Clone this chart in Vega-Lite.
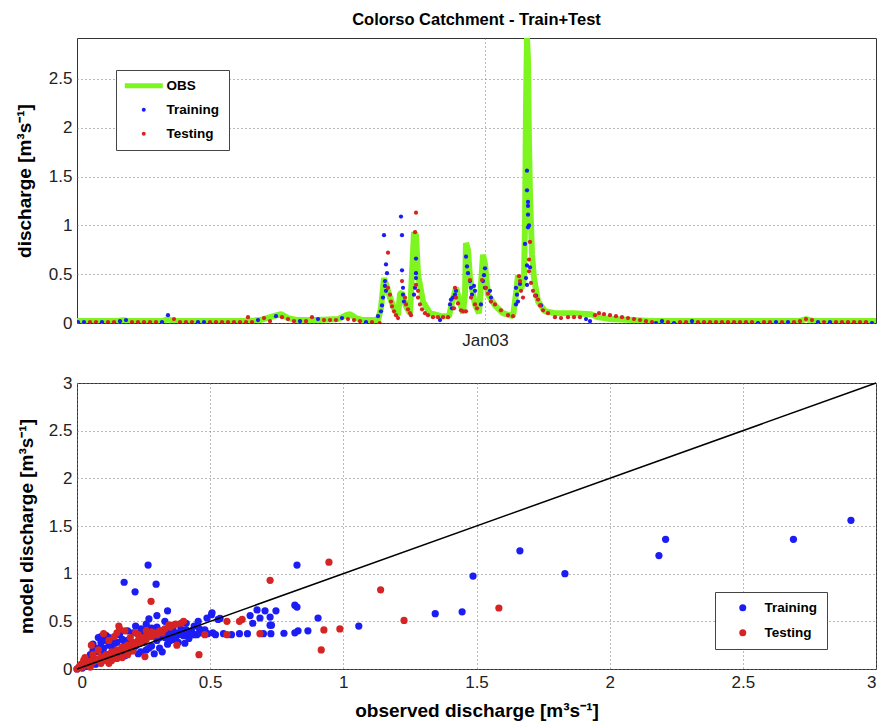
{
  "$schema": "https://vega.github.io/schema/vega-lite/v6.json",
  "background": "white",
  "padding": {"left": 14, "top": 11, "right": 5, "bottom": 5},
  "spacing": 60,
  "bounds": "flush",
  "config": {
    "font": "Liberation Sans",
    "view": {"stroke": "#333", "strokeWidth": 1},
    "axis": {
      "labelFont": "Liberation Sans", "labelFontSize": 17, "labelColor": "#222",
      "titleFont": "Liberation Sans", "titleFontSize": 19, "titleFontWeight": "bold", "titleColor": "black",
      "gridColor": "#777", "gridDash": [1, 3], "gridWidth": 1,
      "domain": false, "ticks": false, "labelPadding": 5
    },
    "legend": {"labelFont": "Liberation Sans"}
  },
  "resolve": {"scale": {"color": "independent"}, "legend": {"color": "independent"}},
  "datasets": {
    "obs": [
      {"day": 0, "discharge": 0.02}, {"day": 3.15, "discharge": 0.02}, {"day": 6.15, "discharge": 0.02}, {"day": 6.9, "discharge": 0.03},
      {"day": 7.65, "discharge": 0.02}, {"day": 12.9, "discharge": 0.02}, {"day": 13.65, "discharge": 0.04}, {"day": 14.4, "discharge": 0.02},
      {"day": 25.65, "discharge": 0.02}, {"day": 27.45, "discharge": 0.03}, {"day": 30.0, "discharge": 0.08}, {"day": 30.6, "discharge": 0.09},
      {"day": 31.65, "discharge": 0.05}, {"day": 33.15, "discharge": 0.03}, {"day": 36.15, "discharge": 0.03}, {"day": 39.15, "discharge": 0.04},
      {"day": 40.35, "discharge": 0.08}, {"day": 40.95, "discharge": 0.09}, {"day": 41.85, "discharge": 0.05}, {"day": 42.9, "discharge": 0.03},
      {"day": 45.15, "discharge": 0.03}, {"day": 45.6, "discharge": 0.15}, {"day": 46.05, "discharge": 0.46}, {"day": 46.35, "discharge": 0.40},
      {"day": 46.95, "discharge": 0.26}, {"day": 47.55, "discharge": 0.15}, {"day": 48.15, "discharge": 0.08}, {"day": 48.45, "discharge": 0.30},
      {"day": 48.75, "discharge": 0.31}, {"day": 49.35, "discharge": 0.17}, {"day": 49.95, "discharge": 0.10}, {"day": 50.25, "discharge": 0.50},
      {"day": 50.55, "discharge": 0.93}, {"day": 50.85, "discharge": 0.90}, {"day": 51.15, "discharge": 0.50}, {"day": 51.9, "discharge": 0.22},
      {"day": 52.95, "discharge": 0.10}, {"day": 54.6, "discharge": 0.07}, {"day": 55.8, "discharge": 0.07}, {"day": 56.4, "discharge": 0.25},
      {"day": 56.85, "discharge": 0.36}, {"day": 57.3, "discharge": 0.25}, {"day": 57.9, "discharge": 0.10}, {"day": 58.2, "discharge": 0.30},
      {"day": 58.35, "discharge": 0.82}, {"day": 58.65, "discharge": 0.75}, {"day": 58.95, "discharge": 0.46}, {"day": 59.7, "discharge": 0.19},
      {"day": 60.3, "discharge": 0.10}, {"day": 60.6, "discharge": 0.40}, {"day": 60.9, "discharge": 0.70}, {"day": 61.2, "discharge": 0.60},
      {"day": 61.65, "discharge": 0.29}, {"day": 62.7, "discharge": 0.18}, {"day": 63.9, "discharge": 0.10}, {"day": 65.4, "discharge": 0.07},
      {"day": 65.85, "discharge": 0.30}, {"day": 66.15, "discharge": 0.49}, {"day": 66.6, "discharge": 0.35}, {"day": 67.05, "discharge": 0.45},
      {"day": 67.2, "discharge": 1.0}, {"day": 67.35, "discharge": 2.2}, {"day": 67.5, "discharge": 2.92}, {"day": 67.65, "discharge": 2.7},
      {"day": 67.8, "discharge": 1.84}, {"day": 67.95, "discharge": 1.3}, {"day": 68.25, "discharge": 0.7}, {"day": 68.55, "discharge": 0.46},
      {"day": 69.15, "discharge": 0.22}, {"day": 70.2, "discharge": 0.12}, {"day": 71.7, "discharge": 0.10}, {"day": 74.4, "discharge": 0.10},
      {"day": 77.1, "discharge": 0.09}, {"day": 78.15, "discharge": 0.06}, {"day": 79.95, "discharge": 0.04}, {"day": 83.4, "discharge": 0.03},
      {"day": 86.1, "discharge": 0.02}, {"day": 93.15, "discharge": 0.02}, {"day": 108.3, "discharge": 0.02}, {"day": 109.35, "discharge": 0.04},
      {"day": 110.55, "discharge": 0.02}, {"day": 119.85, "discharge": 0.02}
    ],
    "model": [
      {"day": 0.15, "discharge": 0.01, "set": "Training"}, {"day": 1.05, "discharge": 0.01, "set": "Training"}, {"day": 3.75, "discharge": 0.01, "set": "Training"},
      {"day": 6.45, "discharge": 0.02, "set": "Training"}, {"day": 7.35, "discharge": 0.03, "set": "Training"}, {"day": 12.75, "discharge": 0.01, "set": "Training"},
      {"day": 13.65, "discharge": 0.08, "set": "Training"}, {"day": 18.15, "discharge": 0.01, "set": "Training"}, {"day": 19.05, "discharge": 0.01, "set": "Training"},
      {"day": 27.15, "discharge": 0.03, "set": "Training"}, {"day": 29.85, "discharge": 0.07, "set": "Training"}, {"day": 33.45, "discharge": 0.02, "set": "Training"},
      {"day": 36.15, "discharge": 0.04, "set": "Training"}, {"day": 39.75, "discharge": 0.05, "set": "Training"}, {"day": 43.35, "discharge": 0.01, "set": "Training"},
      {"day": 45.15, "discharge": 0.07, "set": "Training"}, {"day": 45.6, "discharge": 0.12, "set": "Training"}, {"day": 45.75, "discharge": 0.18, "set": "Training"},
      {"day": 45.9, "discharge": 0.26, "set": "Training"}, {"day": 46.05, "discharge": 0.90, "set": "Training"}, {"day": 46.35, "discharge": 0.60, "set": "Training"},
      {"day": 46.5, "discharge": 0.51, "set": "Training"}, {"day": 46.2, "discharge": 0.43, "set": "Training"}, {"day": 46.2, "discharge": 0.38, "set": "Training"},
      {"day": 46.35, "discharge": 0.33, "set": "Training"}, {"day": 48.6, "discharge": 1.09, "set": "Training"}, {"day": 48.75, "discharge": 0.90, "set": "Training"},
      {"day": 48.75, "discharge": 0.54, "set": "Training"}, {"day": 48.9, "discharge": 0.36, "set": "Training"}, {"day": 48.9, "discharge": 0.29, "set": "Training"},
      {"day": 49.05, "discharge": 0.22, "set": "Training"}, {"day": 50.85, "discharge": 0.66, "set": "Training"}, {"day": 50.85, "discharge": 0.51, "set": "Training"},
      {"day": 50.85, "discharge": 0.46, "set": "Training"}, {"day": 50.7, "discharge": 0.36, "set": "Training"}, {"day": 50.55, "discharge": 0.29, "set": "Training"},
      {"day": 54.45, "discharge": 0.03, "set": "Training"}, {"day": 55.95, "discharge": 0.19, "set": "Training"}, {"day": 56.1, "discharge": 0.24, "set": "Training"},
      {"day": 56.4, "discharge": 0.26, "set": "Training"}, {"day": 56.7, "discharge": 0.29, "set": "Training"}, {"day": 56.85, "discharge": 0.33, "set": "Training"},
      {"day": 56.25, "discharge": 0.15, "set": "Training"}, {"day": 58.35, "discharge": 0.68, "set": "Training"}, {"day": 58.5, "discharge": 0.58, "set": "Training"},
      {"day": 58.65, "discharge": 0.51, "set": "Training"}, {"day": 58.95, "discharge": 0.43, "set": "Training"}, {"day": 59.1, "discharge": 0.36, "set": "Training"},
      {"day": 59.25, "discharge": 0.29, "set": "Training"}, {"day": 59.55, "discharge": 0.38, "set": "Training"}, {"day": 59.7, "discharge": 0.33, "set": "Training"},
      {"day": 61.2, "discharge": 0.56, "set": "Training"}, {"day": 61.05, "discharge": 0.49, "set": "Training"}, {"day": 60.9, "discharge": 0.43, "set": "Training"},
      {"day": 61.2, "discharge": 0.36, "set": "Training"}, {"day": 60.6, "discharge": 0.19, "set": "Training"}, {"day": 61.95, "discharge": 0.33, "set": "Training"},
      {"day": 62.1, "discharge": 0.26, "set": "Training"}, {"day": 65.85, "discharge": 0.36, "set": "Training"}, {"day": 66.0, "discharge": 0.29, "set": "Training"},
      {"day": 66.15, "discharge": 0.22, "set": "Training"}, {"day": 65.85, "discharge": 0.19, "set": "Training"}, {"day": 66.45, "discharge": 0.40, "set": "Training"},
      {"day": 67.2, "discharge": 0.81, "set": "Training"}, {"day": 67.5, "discharge": 1.56, "set": "Training"}, {"day": 67.5, "discharge": 1.36, "set": "Training"},
      {"day": 67.65, "discharge": 1.24, "set": "Training"}, {"day": 67.65, "discharge": 1.20, "set": "Training"}, {"day": 67.65, "discharge": 1.11, "set": "Training"},
      {"day": 67.8, "discharge": 1.00, "set": "Training"}, {"day": 67.65, "discharge": 0.98, "set": "Training"}, {"day": 67.5, "discharge": 0.59, "set": "Training"},
      {"day": 67.95, "discharge": 0.57, "set": "Training"}, {"day": 67.35, "discharge": 0.46, "set": "Training"}, {"day": 67.5, "discharge": 0.39, "set": "Training"},
      {"day": 68.85, "discharge": 0.28, "set": "Training"}, {"day": 69.6, "discharge": 0.18, "set": "Training"}, {"day": 76.35, "discharge": 0.04, "set": "Training"},
      {"day": 76.95, "discharge": 0.02, "set": "Training"}, {"day": 86.85, "discharge": 0.0, "set": "Training"}, {"day": 87.75, "discharge": 0.02, "set": "Training"},
      {"day": 89.55, "discharge": 0.0, "set": "Training"}, {"day": 92.25, "discharge": 0.02, "set": "Training"}, {"day": 102.15, "discharge": 0.0, "set": "Training"},
      {"day": 104.85, "discharge": 0.01, "set": "Training"}, {"day": 106.65, "discharge": 0.01, "set": "Training"}, {"day": 111.15, "discharge": 0.01, "set": "Training"},
      {"day": 112.95, "discharge": 0.01, "set": "Training"}, {"day": 119.25, "discharge": 0.0, "set": "Training"},
      {"day": 1.95, "discharge": 0.01, "set": "Testing"}, {"day": 2.85, "discharge": 0.01, "set": "Testing"}, {"day": 4.65, "discharge": 0.01, "set": "Testing"},
      {"day": 5.55, "discharge": 0.01, "set": "Testing"}, {"day": 8.25, "discharge": 0.01, "set": "Testing"}, {"day": 9.15, "discharge": 0.01, "set": "Testing"},
      {"day": 10.05, "discharge": 0.01, "set": "Testing"}, {"day": 10.95, "discharge": 0.01, "set": "Testing"}, {"day": 11.85, "discharge": 0.01, "set": "Testing"},
      {"day": 14.55, "discharge": 0.04, "set": "Testing"}, {"day": 15.45, "discharge": 0.01, "set": "Testing"}, {"day": 16.35, "discharge": 0.01, "set": "Testing"},
      {"day": 17.25, "discharge": 0.01, "set": "Testing"}, {"day": 19.95, "discharge": 0.01, "set": "Testing"}, {"day": 20.85, "discharge": 0.01, "set": "Testing"},
      {"day": 21.75, "discharge": 0.01, "set": "Testing"}, {"day": 22.65, "discharge": 0.01, "set": "Testing"}, {"day": 23.55, "discharge": 0.01, "set": "Testing"},
      {"day": 24.45, "discharge": 0.01, "set": "Testing"}, {"day": 25.35, "discharge": 0.01, "set": "Testing"}, {"day": 25.65, "discharge": 0.06, "set": "Testing"},
      {"day": 26.25, "discharge": 0.01, "set": "Testing"}, {"day": 28.05, "discharge": 0.05, "set": "Testing"}, {"day": 28.95, "discharge": 0.02, "set": "Testing"},
      {"day": 30.75, "discharge": 0.06, "set": "Testing"}, {"day": 31.65, "discharge": 0.04, "set": "Testing"}, {"day": 32.55, "discharge": 0.02, "set": "Testing"},
      {"day": 34.35, "discharge": 0.02, "set": "Testing"}, {"day": 35.25, "discharge": 0.06, "set": "Testing"}, {"day": 37.05, "discharge": 0.03, "set": "Testing"},
      {"day": 37.95, "discharge": 0.03, "set": "Testing"}, {"day": 38.85, "discharge": 0.03, "set": "Testing"}, {"day": 40.65, "discharge": 0.04, "set": "Testing"},
      {"day": 41.55, "discharge": 0.03, "set": "Testing"}, {"day": 42.45, "discharge": 0.02, "set": "Testing"}, {"day": 44.25, "discharge": 0.01, "set": "Testing"},
      {"day": 45.4, "discharge": 0.0, "set": "Testing"}, {"day": 46.65, "discharge": 0.72, "set": "Testing"}, {"day": 46.65, "discharge": 0.36, "set": "Testing"},
      {"day": 46.95, "discharge": 0.29, "set": "Testing"}, {"day": 47.1, "discharge": 0.22, "set": "Testing"}, {"day": 47.25, "discharge": 0.17, "set": "Testing"},
      {"day": 47.55, "discharge": 0.12, "set": "Testing"}, {"day": 47.85, "discharge": 0.08, "set": "Testing"}, {"day": 48.15, "discharge": 0.05, "set": "Testing"},
      {"day": 48.75, "discharge": 0.43, "set": "Testing"}, {"day": 49.2, "discharge": 0.26, "set": "Testing"}, {"day": 49.35, "discharge": 0.19, "set": "Testing"},
      {"day": 49.65, "discharge": 0.14, "set": "Testing"}, {"day": 49.95, "discharge": 0.10, "set": "Testing"}, {"day": 50.1, "discharge": 0.08, "set": "Testing"},
      {"day": 50.85, "discharge": 1.13, "set": "Testing"}, {"day": 50.7, "discharge": 0.93, "set": "Testing"}, {"day": 50.85, "discharge": 0.39, "set": "Testing"},
      {"day": 51.15, "discharge": 0.33, "set": "Testing"}, {"day": 51.15, "discharge": 0.26, "set": "Testing"}, {"day": 51.45, "discharge": 0.19, "set": "Testing"},
      {"day": 51.75, "discharge": 0.14, "set": "Testing"}, {"day": 52.2, "discharge": 0.10, "set": "Testing"}, {"day": 52.65, "discharge": 0.08, "set": "Testing"},
      {"day": 53.4, "discharge": 0.06, "set": "Testing"}, {"day": 54.15, "discharge": 0.06, "set": "Testing"}, {"day": 54.9, "discharge": 0.06, "set": "Testing"},
      {"day": 55.65, "discharge": 0.06, "set": "Testing"}, {"day": 56.7, "discharge": 0.36, "set": "Testing"}, {"day": 56.85, "discharge": 0.26, "set": "Testing"},
      {"day": 57.15, "discharge": 0.20, "set": "Testing"}, {"day": 56.55, "discharge": 0.15, "set": "Testing"}, {"day": 57.6, "discharge": 0.13, "set": "Testing"},
      {"day": 57.9, "discharge": 0.12, "set": "Testing"}, {"day": 58.35, "discharge": 0.12, "set": "Testing"}, {"day": 58.95, "discharge": 0.44, "set": "Testing"},
      {"day": 59.1, "discharge": 0.26, "set": "Testing"}, {"day": 59.7, "discharge": 0.19, "set": "Testing"}, {"day": 60.0, "discharge": 0.15, "set": "Testing"},
      {"day": 60.75, "discharge": 0.44, "set": "Testing"}, {"day": 61.35, "discharge": 0.36, "set": "Testing"}, {"day": 61.65, "discharge": 0.30, "set": "Testing"},
      {"day": 62.1, "discharge": 0.22, "set": "Testing"}, {"day": 62.7, "discharge": 0.19, "set": "Testing"}, {"day": 63.6, "discharge": 0.13, "set": "Testing"},
      {"day": 64.65, "discharge": 0.08, "set": "Testing"}, {"day": 65.4, "discharge": 0.07, "set": "Testing"}, {"day": 66.3, "discharge": 0.48, "set": "Testing"},
      {"day": 66.45, "discharge": 0.43, "set": "Testing"}, {"day": 66.6, "discharge": 0.33, "set": "Testing"}, {"day": 66.9, "discharge": 0.26, "set": "Testing"},
      {"day": 67.95, "discharge": 0.83, "set": "Testing"}, {"day": 67.8, "discharge": 0.65, "set": "Testing"}, {"day": 67.8, "discharge": 0.53, "set": "Testing"},
      {"day": 68.1, "discharge": 0.41, "set": "Testing"}, {"day": 68.4, "discharge": 0.33, "set": "Testing"}, {"day": 68.7, "discharge": 0.28, "set": "Testing"},
      {"day": 69.15, "discharge": 0.24, "set": "Testing"}, {"day": 69.45, "discharge": 0.18, "set": "Testing"}, {"day": 69.9, "discharge": 0.13, "set": "Testing"},
      {"day": 70.65, "discharge": 0.10, "set": "Testing"}, {"day": 71.7, "discharge": 0.06, "set": "Testing"}, {"day": 72.6, "discharge": 0.05, "set": "Testing"},
      {"day": 73.65, "discharge": 0.06, "set": "Testing"}, {"day": 74.55, "discharge": 0.06, "set": "Testing"}, {"day": 75.45, "discharge": 0.06, "set": "Testing"},
      {"day": 77.7, "discharge": 0.08, "set": "Testing"}, {"day": 78.3, "discharge": 0.10, "set": "Testing"}, {"day": 79.05, "discharge": 0.09, "set": "Testing"},
      {"day": 79.95, "discharge": 0.08, "set": "Testing"}, {"day": 80.85, "discharge": 0.07, "set": "Testing"}, {"day": 81.75, "discharge": 0.06, "set": "Testing"},
      {"day": 82.65, "discharge": 0.05, "set": "Testing"}, {"day": 83.55, "discharge": 0.04, "set": "Testing"}, {"day": 84.45, "discharge": 0.03, "set": "Testing"},
      {"day": 85.35, "discharge": 0.02, "set": "Testing"}, {"day": 86.25, "discharge": 0.01, "set": "Testing"}, {"day": 88.65, "discharge": 0.01, "set": "Testing"},
      {"day": 90.45, "discharge": 0.01, "set": "Testing"}, {"day": 91.35, "discharge": 0.01, "set": "Testing"}, {"day": 93.15, "discharge": 0.01, "set": "Testing"},
      {"day": 94.05, "discharge": 0.01, "set": "Testing"}, {"day": 94.95, "discharge": 0.01, "set": "Testing"}, {"day": 95.85, "discharge": 0.01, "set": "Testing"},
      {"day": 96.75, "discharge": 0.01, "set": "Testing"}, {"day": 97.65, "discharge": 0.01, "set": "Testing"}, {"day": 98.55, "discharge": 0.01, "set": "Testing"},
      {"day": 99.45, "discharge": 0.01, "set": "Testing"}, {"day": 100.35, "discharge": 0.01, "set": "Testing"}, {"day": 101.25, "discharge": 0.01, "set": "Testing"},
      {"day": 103.05, "discharge": 0.01, "set": "Testing"}, {"day": 103.95, "discharge": 0.01, "set": "Testing"}, {"day": 105.75, "discharge": 0.01, "set": "Testing"},
      {"day": 107.55, "discharge": 0.01, "set": "Testing"}, {"day": 108.45, "discharge": 0.02, "set": "Testing"}, {"day": 109.35, "discharge": 0.04, "set": "Testing"},
      {"day": 110.25, "discharge": 0.03, "set": "Testing"}, {"day": 112.05, "discharge": 0.01, "set": "Testing"}, {"day": 113.85, "discharge": 0.01, "set": "Testing"},
      {"day": 114.75, "discharge": 0.01, "set": "Testing"}, {"day": 115.65, "discharge": 0.01, "set": "Testing"}, {"day": 116.55, "discharge": 0.01, "set": "Testing"},
      {"day": 117.45, "discharge": 0.01, "set": "Testing"}, {"day": 118.35, "discharge": 0.01, "set": "Testing"}
    ],
    "scatter": [
      {"observed": 2.906, "model": 1.56, "set": "Training"}, {"observed": 2.69, "model": 1.36, "set": "Training"}, {"observed": 2.21, "model": 1.36, "set": "Training"},
      {"observed": 2.185, "model": 1.19, "set": "Training"}, {"observed": 1.832, "model": 1.0, "set": "Training"}, {"observed": 1.663, "model": 1.24, "set": "Training"},
      {"observed": 1.487, "model": 0.975, "set": "Training"}, {"observed": 1.446, "model": 0.60, "set": "Training"}, {"observed": 1.345, "model": 0.58, "set": "Training"},
      {"observed": 1.058, "model": 0.45, "set": "Training"}, {"observed": 0.905, "model": 0.535, "set": "Training"}, {"observed": 0.867, "model": 0.40, "set": "Training"},
      {"observed": 0.83, "model": 0.40, "set": "Training"}, {"observed": 0.826, "model": 1.09, "set": "Training"}, {"observed": 0.818, "model": 0.67, "set": "Training"},
      {"observed": 0.826, "model": 0.65, "set": "Training"}, {"observed": 0.818, "model": 0.38, "set": "Training"}, {"observed": 0.777, "model": 0.375, "set": "Training"},
      {"observed": 0.728, "model": 0.37, "set": "Training"}, {"observed": 0.725, "model": 0.46, "set": "Training"}, {"observed": 0.725, "model": 0.545, "set": "Training"},
      {"observed": 0.687, "model": 0.535, "set": "Training"}, {"observed": 0.747, "model": 0.61, "set": "Training"}, {"observed": 0.706, "model": 0.61, "set": "Training"},
      {"observed": 0.676, "model": 0.62, "set": "Training"}, {"observed": 0.65, "model": 0.56, "set": "Training"}, {"observed": 0.66, "model": 0.48, "set": "Training"},
      {"observed": 0.267, "model": 1.09, "set": "Training"}, {"observed": 0.177, "model": 0.91, "set": "Training"}, {"observed": 0.218, "model": 0.81, "set": "Training"},
      {"observed": 0.297, "model": 0.89, "set": "Training"}, {"observed": 0.45, "model": 0.36, "set": "Training"}, {"observed": 0.49, "model": 0.37, "set": "Training"},
      {"observed": 0.52, "model": 0.36, "set": "Training"}, {"observed": 0.55, "model": 0.37, "set": "Training"}, {"observed": 0.58, "model": 0.36, "set": "Training"},
      {"observed": 0.61, "model": 0.37, "set": "Training"}, {"observed": 0.64, "model": 0.37, "set": "Training"}, {"observed": 0.70, "model": 0.37, "set": "Training"},
      {"observed": 0.507, "model": 0.59, "set": "Training"}, {"observed": 0.537, "model": 0.53, "set": "Training"}, {"observed": 0.488, "model": 0.535, "set": "Training"},
      {"observed": 0.455, "model": 0.50, "set": "Training"}, {"observed": 0.53, "model": 0.52, "set": "Training"}, {"observed": 0.505, "model": 0.57, "set": "Training"},
      {"observed": 0.34, "model": 0.61, "set": "Training"}, {"observed": 0.30, "model": 0.56, "set": "Training"}, {"observed": 0.27, "model": 0.525, "set": "Training"},
      {"observed": 0.405, "model": 0.27, "set": "Training"}, {"observed": 0.354, "model": 0.35, "set": "Training"}, {"observed": 0.236, "model": 0.35, "set": "Training"},
      {"observed": 0.255, "model": 0.33, "set": "Training"}, {"observed": 0.0, "model": 0.0, "set": "Training"}, {"observed": 0.01, "model": 0.02, "set": "Training"},
      {"observed": 0.02, "model": 0.05, "set": "Training"}, {"observed": 0.02, "model": 0.01, "set": "Training"}, {"observed": 0.03, "model": 0.08, "set": "Training"},
      {"observed": 0.04, "model": 0.03, "set": "Training"}, {"observed": 0.05, "model": 0.06, "set": "Training"}, {"observed": 0.06, "model": 0.12, "set": "Training"},
      {"observed": 0.07, "model": 0.05, "set": "Training"}, {"observed": 0.08, "model": 0.33, "set": "Training"}, {"observed": 0.09, "model": 0.28, "set": "Training"},
      {"observed": 0.10, "model": 0.30, "set": "Training"}, {"observed": 0.10, "model": 0.22, "set": "Training"}, {"observed": 0.11, "model": 0.35, "set": "Training"},
      {"observed": 0.12, "model": 0.25, "set": "Training"}, {"observed": 0.12, "model": 0.10, "set": "Training"}, {"observed": 0.13, "model": 0.32, "set": "Training"},
      {"observed": 0.14, "model": 0.20, "set": "Training"}, {"observed": 0.15, "model": 0.12, "set": "Training"}, {"observed": 0.15, "model": 0.28, "set": "Training"},
      {"observed": 0.16, "model": 0.36, "set": "Training"}, {"observed": 0.17, "model": 0.22, "set": "Training"}, {"observed": 0.18, "model": 0.14, "set": "Training"},
      {"observed": 0.19, "model": 0.30, "set": "Training"}, {"observed": 0.20, "model": 0.19, "set": "Training"}, {"observed": 0.21, "model": 0.38, "set": "Training"},
      {"observed": 0.22, "model": 0.24, "set": "Training"}, {"observed": 0.23, "model": 0.16, "set": "Training"}, {"observed": 0.24, "model": 0.42, "set": "Training"},
      {"observed": 0.25, "model": 0.28, "set": "Training"}, {"observed": 0.26, "model": 0.20, "set": "Training"}, {"observed": 0.27, "model": 0.35, "set": "Training"},
      {"observed": 0.28, "model": 0.24, "set": "Training"}, {"observed": 0.29, "model": 0.38, "set": "Training"}, {"observed": 0.30, "model": 0.30, "set": "Training"},
      {"observed": 0.31, "model": 0.22, "set": "Training"}, {"observed": 0.32, "model": 0.40, "set": "Training"}, {"observed": 0.33, "model": 0.33, "set": "Training"},
      {"observed": 0.34, "model": 0.26, "set": "Training"}, {"observed": 0.35, "model": 0.45, "set": "Training"}, {"observed": 0.36, "model": 0.31, "set": "Training"},
      {"observed": 0.37, "model": 0.38, "set": "Training"}, {"observed": 0.38, "model": 0.28, "set": "Training"}, {"observed": 0.39, "model": 0.42, "set": "Training"},
      {"observed": 0.40, "model": 0.35, "set": "Training"}, {"observed": 0.41, "model": 0.48, "set": "Training"}, {"observed": 0.42, "model": 0.32, "set": "Training"},
      {"observed": 0.43, "model": 0.40, "set": "Training"}, {"observed": 0.44, "model": 0.45, "set": "Training"}, {"observed": 0.46, "model": 0.42, "set": "Training"},
      {"observed": 0.47, "model": 0.38, "set": "Training"}, {"observed": 0.05, "model": 0.15, "set": "Training"}, {"observed": 0.04, "model": 0.10, "set": "Training"},
      {"observed": 0.07, "model": 0.18, "set": "Training"}, {"observed": 0.09, "model": 0.12, "set": "Training"}, {"observed": 0.11, "model": 0.15, "set": "Training"},
      {"observed": 0.13, "model": 0.16, "set": "Training"}, {"observed": 0.16, "model": 0.18, "set": "Training"}, {"observed": 0.06, "model": 0.26, "set": "Training"},
      {"observed": 0.08, "model": 0.22, "set": "Training"}, {"observed": 0.22, "model": 0.45, "set": "Training"}, {"observed": 0.26, "model": 0.47, "set": "Training"},
      {"observed": 0.28, "model": 0.43, "set": "Training"}, {"observed": 0.33, "model": 0.50, "set": "Training"}, {"observed": 0.36, "model": 0.42, "set": "Training"},
      {"observed": 0.32, "model": 0.18, "set": "Training"}, {"observed": 0.29, "model": 0.16, "set": "Training"}, {"observed": 0.38, "model": 0.36, "set": "Training"},
      {"observed": 0.42, "model": 0.38, "set": "Training"}, {"observed": 0.44, "model": 0.36, "set": "Training"}, {"observed": 0.73, "model": 0.46, "set": "Training"},
      {"observed": 0.09, "model": 0.34, "set": "Training"}, {"observed": 0.12, "model": 0.33, "set": "Training"}, {"observed": 0.14, "model": 0.27, "set": "Training"},
      {"observed": 0.17, "model": 0.31, "set": "Training"}, {"observed": 0.19, "model": 0.40, "set": "Training"}, {"observed": 0.21, "model": 0.21, "set": "Training"},
      {"observed": 0.24, "model": 0.18, "set": "Training"}, {"observed": 0.25, "model": 0.40, "set": "Training"}, {"observed": 0.27, "model": 0.22, "set": "Training"},
      {"observed": 0.30, "model": 0.44, "set": "Training"}, {"observed": 0.31, "model": 0.33, "set": "Training"}, {"observed": 0.34, "model": 0.38, "set": "Training"},
      {"observed": 0.35, "model": 0.30, "set": "Training"}, {"observed": 0.37, "model": 0.33, "set": "Training"}, {"observed": 0.39, "model": 0.37, "set": "Training"},
      {"observed": 0.41, "model": 0.41, "set": "Training"}, {"observed": 0.43, "model": 0.36, "set": "Training"}, {"observed": 0.46, "model": 0.38, "set": "Training"},
      {"observed": 0.48, "model": 0.41, "set": "Training"}, {"observed": 0.51, "model": 0.38, "set": "Training"}, {"observed": 0.06, "model": 0.19, "set": "Training"},
      {"observed": 0.10, "model": 0.17, "set": "Training"}, {"observed": 0.13, "model": 0.24, "set": "Training"}, {"observed": 0.18, "model": 0.27, "set": "Training"},
      {"observed": 1.584, "model": 0.64, "set": "Testing"}, {"observed": 1.228, "model": 0.51, "set": "Testing"}, {"observed": 1.14, "model": 0.83, "set": "Testing"},
      {"observed": 0.946, "model": 1.12, "set": "Testing"}, {"observed": 0.987, "model": 0.42, "set": "Testing"}, {"observed": 0.927, "model": 0.41, "set": "Testing"},
      {"observed": 0.917, "model": 0.20, "set": "Testing"}, {"observed": 0.725, "model": 0.93, "set": "Testing"}, {"observed": 0.278, "model": 0.71, "set": "Testing"},
      {"observed": 0.687, "model": 0.37, "set": "Testing"}, {"observed": 0.563, "model": 0.36, "set": "Testing"}, {"observed": 0.48, "model": 0.36, "set": "Testing"},
      {"observed": 0.61, "model": 0.50, "set": "Testing"}, {"observed": 0.563, "model": 0.50, "set": "Testing"}, {"observed": 0.62, "model": 0.52, "set": "Testing"},
      {"observed": 0.458, "model": 0.15, "set": "Testing"}, {"observed": 0.255, "model": 0.13, "set": "Testing"}, {"observed": 0.054, "model": 0.25, "set": "Testing"},
      {"observed": 0.157, "model": 0.45, "set": "Testing"}, {"observed": 0.345, "model": 0.46, "set": "Testing"}, {"observed": 0.39, "model": 0.48, "set": "Testing"},
      {"observed": 0.40, "model": 0.50, "set": "Testing"}, {"observed": 0.375, "model": 0.25, "set": "Testing"}, {"observed": 0.0, "model": 0.0, "set": "Testing"},
      {"observed": 0.005, "model": 0.01, "set": "Testing"}, {"observed": 0.01, "model": 0.03, "set": "Testing"}, {"observed": 0.02, "model": 0.02, "set": "Testing"},
      {"observed": 0.03, "model": 0.04, "set": "Testing"}, {"observed": 0.03, "model": 0.06, "set": "Testing"}, {"observed": 0.04, "model": 0.05, "set": "Testing"},
      {"observed": 0.05, "model": 0.08, "set": "Testing"}, {"observed": 0.06, "model": 0.07, "set": "Testing"}, {"observed": 0.07, "model": 0.10, "set": "Testing"},
      {"observed": 0.08, "model": 0.09, "set": "Testing"}, {"observed": 0.09, "model": 0.13, "set": "Testing"}, {"observed": 0.10, "model": 0.12, "set": "Testing"},
      {"observed": 0.11, "model": 0.15, "set": "Testing"}, {"observed": 0.12, "model": 0.14, "set": "Testing"}, {"observed": 0.13, "model": 0.18, "set": "Testing"},
      {"observed": 0.14, "model": 0.16, "set": "Testing"}, {"observed": 0.15, "model": 0.20, "set": "Testing"}, {"observed": 0.16, "model": 0.19, "set": "Testing"},
      {"observed": 0.17, "model": 0.23, "set": "Testing"}, {"observed": 0.18, "model": 0.21, "set": "Testing"}, {"observed": 0.19, "model": 0.25, "set": "Testing"},
      {"observed": 0.20, "model": 0.24, "set": "Testing"}, {"observed": 0.21, "model": 0.28, "set": "Testing"}, {"observed": 0.22, "model": 0.26, "set": "Testing"},
      {"observed": 0.23, "model": 0.30, "set": "Testing"}, {"observed": 0.24, "model": 0.28, "set": "Testing"}, {"observed": 0.25, "model": 0.33, "set": "Testing"},
      {"observed": 0.26, "model": 0.31, "set": "Testing"}, {"observed": 0.27, "model": 0.35, "set": "Testing"}, {"observed": 0.28, "model": 0.34, "set": "Testing"},
      {"observed": 0.29, "model": 0.38, "set": "Testing"}, {"observed": 0.30, "model": 0.36, "set": "Testing"}, {"observed": 0.31, "model": 0.40, "set": "Testing"},
      {"observed": 0.32, "model": 0.38, "set": "Testing"}, {"observed": 0.33, "model": 0.42, "set": "Testing"}, {"observed": 0.35, "model": 0.44, "set": "Testing"},
      {"observed": 0.37, "model": 0.47, "set": "Testing"}, {"observed": 0.10, "model": 0.37, "set": "Testing"}, {"observed": 0.12, "model": 0.30, "set": "Testing"},
      {"observed": 0.15, "model": 0.38, "set": "Testing"}, {"observed": 0.18, "model": 0.40, "set": "Testing"}, {"observed": 0.20, "model": 0.33, "set": "Testing"},
      {"observed": 0.22, "model": 0.38, "set": "Testing"}, {"observed": 0.08, "model": 0.20, "set": "Testing"}, {"observed": 0.06, "model": 0.15, "set": "Testing"},
      {"observed": 0.13, "model": 0.09, "set": "Testing"}, {"observed": 0.17, "model": 0.12, "set": "Testing"}, {"observed": 0.05, "model": 0.02, "set": "Testing"},
      {"observed": 0.09, "model": 0.06, "set": "Testing"}, {"observed": 0.28, "model": 0.39, "set": "Testing"}, {"observed": 0.14, "model": 0.34, "set": "Testing"},
      {"observed": 0.16, "model": 0.42, "set": "Testing"}, {"observed": 0.03, "model": 0.12, "set": "Testing"}, {"observed": 0.19, "model": 0.15, "set": "Testing"},
      {"observed": 0.12, "model": 0.06, "set": "Testing"}, {"observed": 0.015, "model": 0.05, "set": "Testing"}, {"observed": 0.025, "model": 0.09, "set": "Testing"},
      {"observed": 0.11, "model": 0.09, "set": "Testing"}, {"observed": 0.15, "model": 0.11, "set": "Testing"}, {"observed": 0.23, "model": 0.36, "set": "Testing"},
      {"observed": 0.26, "model": 0.40, "set": "Testing"}, {"observed": 0.36, "model": 0.46, "set": "Testing"}, {"observed": 0.21, "model": 0.19, "set": "Testing"}
    ],
    "identity": [{"observed": 0, "model": 0}, {"observed": 3, "model": 3}]
  },
  "vconcat": [
    {
      "title": {"text": "Colorso Catchment - Train+Test", "font": "Liberation Sans", "fontSize": 16.5, "fontWeight": "bold", "color": "black", "anchor": "middle", "offset": 10},
      "width": 799,
      "height": 285,
      "layer": [
        {
          "data": {"name": "obs"},
          "mark": {"type": "line", "strokeWidth": 6, "clip": true, "strokeJoin": "bevel"},
          "encoding": {
            "x": {"field": "day", "type": "quantitative", "scale": {"domain": [0, 119.85], "nice": false, "zero": false},
                  "axis": {"values": [61.2], "labelExpr": "'Jan03'", "title": null, "grid": true, "labelPadding": 9}},
            "y": {"field": "discharge", "type": "quantitative", "scale": {"domain": [0, 2.92], "nice": false},
                  "axis": {"values": [0, 0.5, 1, 1.5, 2, 2.5], "format": "~g", "title": "discharge [m³s⁻¹]", "titlePadding": 14}},
            "color": {"datum": "OBS", "type": "nominal",
              "scale": {"domain": ["OBS", "Training", "Testing"], "range": ["#7ff51f", "#1c1cf5", "#d62424"]},
              "legend": {
                "orient": "none", "legendX": 39, "legendY": 32, "title": null,
                "fillColor": "white", "strokeColor": "#444", "padding": 9,
                "labelFontSize": 13.5, "labelFontWeight": "bold", "labelColor": "black",
                "symbolSize": 100, "symbolOffset": 12, "labelOffset": 16, "rowPadding": 9,
                "encode": {"symbols": {"update": {
                  "shape": {"signal": "datum.value === 'OBS' ? 'M-3.8,-0.5H3.8V0.5H-3.8Z' : 'circle'"},
                  "size": {"signal": "datum.value === 'OBS' ? 100 : 16"},
                  "fill": {"signal": "datum.value === 'OBS' ? '#7ff51f' : datum.value === 'Training' ? '#1c1cf5' : '#d62424'"},
                  "stroke": {"value": "transparent"},
                  "strokeWidth": {"value": 0},
                  "opacity": {"value": 1}
                }}}
              }
            }
          }
        },
        {
          "data": {"name": "model"},
          "mark": {"type": "point", "filled": true, "size": 18, "opacity": 1, "clip": true},
          "encoding": {
            "x": {"field": "day", "type": "quantitative"},
            "y": {"field": "discharge", "type": "quantitative"},
            "color": {"field": "set", "type": "nominal",
              "scale": {"domain": ["OBS", "Training", "Testing"], "range": ["#7ff51f", "#1c1cf5", "#d62424"]},
              "legend": {
                "orient": "none", "legendX": 39, "legendY": 32, "title": null,
                "fillColor": "white", "strokeColor": "#444", "padding": 9,
                "labelFontSize": 13.5, "labelFontWeight": "bold", "labelColor": "black",
                "symbolSize": 100, "symbolOffset": 12, "labelOffset": 16, "rowPadding": 9,
                "encode": {"symbols": {"update": {
                  "shape": {"signal": "datum.value === 'OBS' ? 'M-3.8,-0.5H3.8V0.5H-3.8Z' : 'circle'"},
                  "size": {"signal": "datum.value === 'OBS' ? 100 : 16"},
                  "fill": {"signal": "datum.value === 'OBS' ? '#7ff51f' : datum.value === 'Training' ? '#1c1cf5' : '#d62424'"},
                  "stroke": {"value": "transparent"},
                  "strokeWidth": {"value": 0},
                  "opacity": {"value": 1}
                }}}
              }
            }
          }
        }
      ]
    },
    {
      "width": 799,
      "height": 286,
      "layer": [
        {
          "data": {"name": "scatter"},
          "mark": {"type": "point", "filled": true, "size": 52, "opacity": 1},
          "encoding": {
            "x": {"field": "observed", "type": "quantitative", "scale": {"domain": [0, 3], "nice": false},
                  "axis": {"values": [0, 0.5, 1, 1.5, 2, 2.5, 3], "format": "~g", "title": "observed discharge [m³s⁻¹]", "titlePadding": 11}},
            "y": {"field": "model", "type": "quantitative", "scale": {"domain": [0, 3], "nice": false},
                  "axis": {"values": [0, 0.5, 1, 1.5, 2, 2.5, 3], "format": "~g", "title": "model discharge [m³s⁻¹]", "titlePadding": 12}},
            "color": {"field": "set", "type": "nominal",
              "scale": {"domain": ["Training", "Testing"], "range": ["#1c1cf5", "#d62424"]},
              "legend": {
                "orient": "none", "legendX": 638, "legendY": 209, "title": null,
                "fillColor": "white", "strokeColor": "#444", "padding": 9,
                "labelFontSize": 13.5, "labelFontWeight": "bold", "labelColor": "black",
                "symbolType": "circle", "symbolSize": 49, "symbolOffset": 12, "labelOffset": 15, "rowPadding": 10
              }
            }
          }
        },
        {
          "data": {"name": "identity"},
          "mark": {"type": "line", "color": "black", "strokeWidth": 1.5},
          "encoding": {
            "x": {"field": "observed", "type": "quantitative"},
            "y": {"field": "model", "type": "quantitative"}
          }
        }
      ]
    }
  ]
}
